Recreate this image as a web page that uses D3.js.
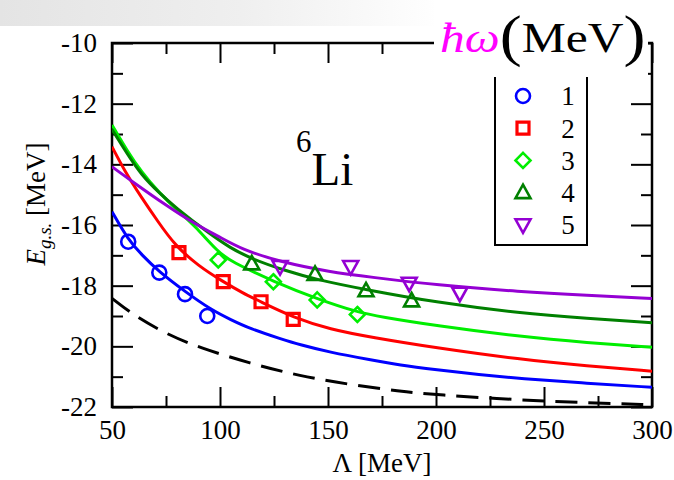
<!DOCTYPE html>
<html>
<head>
<meta charset="utf-8">
<script src="https://cdn.jsdelivr.net/npm/d3@7"></script>
<style>
  body { margin: 0; background: #fff; }
  svg { display: block; }
  svg text { font-family: "Liberation Serif", "Times New Roman", "DejaVu Serif", serif; }
</style>
</head>
<body>
<div id="chart"></div>
<script>
// series labels (hbar omega in MeV) and colours
const seriesNames = ["1", "2", "3", "4", "5"];
const seriesColors = ["#0000ff", "#ff0000", "#00ee00", "#008000", "#9400d3"];
const seriesSymbols = ["circle", "square", "diamond", "triangleUp", "triangleDown"];

// computed points, [Lambda, E]
const points1 = [[57.5, -16.55], [71.9, -17.57], [83.8, -18.28], [94.1, -19.0]];
const points2 = [[81, -16.91], [101.5, -17.87], [119, -18.53], [133.9, -19.11]];
const points3 = [[99.2, -17.15], [124.7, -17.87], [145, -18.47], [163.6, -18.95]];
const points4 = [[114.7, -17.28], [144, -17.63], [167.6, -18.17], [188.7, -18.5]];
const points5 = [[127.8, -17.37], [160.5, -17.37], [187.6, -17.92], [211, -18.25]];

// fitted curves
const fit1 = [[50, -15.56], [57.4, -16.48], [64, -17.0], [71.6, -17.53], [83.9, -18.2], [96, -18.8],
  [105, -19.12], [114, -19.42], [128, -19.75], [137, -19.95], [151, -20.2], [170, -20.45],
  [183, -20.62], [200, -20.77], [220, -20.93], [239, -21.06], [270, -21.22], [300, -21.35]];
const fit2 = [[50, -13.42], [56, -14.24], [63.6, -15.09], [71.3, -15.89], [79, -16.66], [90, -17.35],
  [101.5, -17.87], [110, -18.22], [118.5, -18.52], [134, -19.05], [151, -19.44], [170, -19.7],
  [200, -20.05], [239, -20.43], [270, -20.65], [300, -20.82]];
const fit3 = [[50, -12.7], [57, -13.55], [63.6, -14.25], [72, -14.95], [80, -15.5], [88, -16.0],
  [99.2, -16.9], [105, -17.2], [125, -17.87], [145.5, -18.45], [164, -18.88], [174, -19.02],
  [200, -19.32], [239, -19.68], [270, -19.88], [300, -20.03]];
const fit4 = [[50, -12.85], [57, -13.65], [63.6, -14.35], [72, -14.95], [79, -15.4], [94.4, -16.25],
  [104.6, -16.75], [114.7, -17.12], [130, -17.5], [144, -17.79], [168, -18.14], [200, -18.55],
  [239, -18.91], [270, -19.08], [300, -19.22]];
const fit5 = [[50, -14.08], [60, -14.6], [75, -15.35], [88, -15.95], [100, -16.4], [110, -16.8],
  [128, -17.22], [151, -17.55], [170, -17.72], [200, -17.98], [239, -18.2], [270, -18.32], [300, -18.42]];
const fitInf = [[50, -18.42], [59.9, -18.97], [75.3, -19.6], [90.7, -20.05], [113.9, -20.56],
  [137, -20.98], [160, -21.26], [183, -21.48], [200, -21.6], [239, -21.77], [270, -21.86], [300, -21.93]];

const allPoints = [points1, points2, points3, points4, points5];
const allFits = [fit1, fit2, fit3, fit4, fit5];

// axis ticks
const xMajor = [50, 100, 150, 200, 250, 300];
const xMinor = [75, 125, 175, 225, 275];
const yMajor = [-10, -12, -14, -16, -18, -20, -22];
const yMinor = [-11, -13, -15, -17, -19, -21];

const width = 674, height = 480;
const margin = { top: 43, right: 22, bottom: 73, left: 112 };
const plotW = width - margin.left - margin.right;
const plotH = height - margin.top - margin.bottom;

const svg = d3.select("#chart").append("svg")
    .attr("width", width)
    .attr("height", height);

// faint grey slide band at the top left
const defs = svg.append("defs");
const grad = defs.append("linearGradient")
    .attr("id", "band")
    .attr("x1", 0).attr("x2", 1).attr("y1", 0).attr("y2", 0);
grad.append("stop").attr("offset", "0%").attr("stop-color", "#e4e4e4");
grad.append("stop").attr("offset", "55%").attr("stop-color", "#efefef");
grad.append("stop").attr("offset", "100%").attr("stop-color", "#ffffff");
svg.append("rect")
    .attr("x", 0).attr("y", 0)
    .attr("width", 440).attr("height", 26)
    .attr("fill", "url(#band)");

const x = d3.scaleLinear().domain([50, 300]).range([0, plotW]);
const y = d3.scaleLinear().domain([-22, -10]).range([plotH, 0]);

const g = svg.append("g")
    .attr("transform", `translate(${margin.left},${margin.top})`);

defs.append("clipPath").attr("id", "plotClip")
    .append("rect").attr("width", plotW).attr("height", plotH);

/**
 * Axes: major ticks carry labels, minor ticks are shorter
 */
function styleAxis(sel) {
    sel.select(".domain").remove();
    sel.selectAll("line").attr("stroke", "#000").attr("stroke-width", 2);
    sel.selectAll("text").attr("fill", "#000").attr("font-size", 27);
}

g.append("g").attr("transform", `translate(0,${plotH})`)
    .call(d3.axisBottom(x).tickValues(xMajor).tickSize(-20).tickPadding(13).tickFormat(d => String(d)))
    .call(styleAxis);
g.append("g").attr("transform", `translate(0,${plotH})`)
    .call(d3.axisBottom(x).tickValues(xMinor).tickSize(-11).tickFormat(""))
    .call(styleAxis);
g.append("g")
    .call(d3.axisTop(x).tickValues(xMajor).tickSize(-20).tickFormat(""))
    .call(styleAxis);
g.append("g")
    .call(d3.axisTop(x).tickValues(xMinor).tickSize(-11).tickFormat(""))
    .call(styleAxis);

g.append("g")
    .call(d3.axisLeft(y).tickValues(yMajor).tickSize(-21).tickPadding(15).tickFormat(d => String(d)))
    .call(styleAxis);
g.append("g")
    .call(d3.axisLeft(y).tickValues(yMinor).tickSize(-11).tickFormat(""))
    .call(styleAxis);
g.append("g").attr("transform", `translate(${plotW},0)`)
    .call(d3.axisRight(y).tickValues(yMajor).tickSize(-21).tickFormat(""))
    .call(styleAxis);
g.append("g").attr("transform", `translate(${plotW},0)`)
    .call(d3.axisRight(y).tickValues(yMinor).tickSize(-11).tickFormat(""))
    .call(styleAxis);

// frame
g.append("rect")
    .attr("width", plotW).attr("height", plotH)
    .attr("fill", "none").attr("stroke", "#000").attr("stroke-width", 2.5);

// curves
const line = d3.line()
    .x(d => x(d[0]))
    .y(d => y(d[1]))
    .curve(d3.curveBasis);

const curves = g.append("g").attr("clip-path", "url(#plotClip)");
curves.append("path")
    .datum(fitInf)
    .attr("d", line)
    .attr("fill", "none")
    .attr("stroke", "#000")
    .attr("stroke-width", 3)
    .attr("stroke-dasharray", "22,11");
curves.selectAll(".fit")
    .data(allFits)
    .enter()
    .append("path")
    .attr("class", "fit")
    .attr("d", line)
    .attr("fill", "none")
    .attr("stroke", (_, i) => seriesColors[i])
    .attr("stroke-width", 3);

/**
 * Open markers
 */
function symbolPath(type) {
    if (type === "circle") return d3.arc()({ innerRadius: 0, outerRadius: 7, startAngle: 0, endAngle: 2 * Math.PI });
    if (type === "square") return "M-6,-6H6V6H-6Z";
    if (type === "diamond") return "M0,-7.5L7.5,0L0,7.5L-7.5,0Z";
    if (type === "triangleUp") return "M0,-8L7.5,5.5L-7.5,5.5Z";
    return "M0,8L7.5,-5.5L-7.5,-5.5Z";
}

allPoints.forEach((pts, i) => {
    g.append("g").selectAll("path")
        .data(pts)
        .enter()
        .append("path")
        .attr("transform", d => `translate(${x(d[0])},${y(d[1])})`)
        .attr("d", symbolPath(seriesSymbols[i]))
        .attr("fill", "none")
        .attr("stroke", seriesColors[i])
        .attr("stroke-width", i === 1 ? 3.2 : 2.6);
});

// legend
const legendX = 495, legendY = 62, legendW = 92, legendH = 183;
svg.append("rect")
    .attr("x", legendX).attr("y", legendY)
    .attr("width", legendW).attr("height", legendH)
    .attr("fill", "#fff").attr("stroke", "#000").attr("stroke-width", 2);
const legendRows = svg.append("g").selectAll("g")
    .data(seriesNames)
    .enter()
    .append("g")
    .attr("transform", (_, i) => `translate(${legendX + 28},${96 + i * 32.2})`);
legendRows.append("path")
    .attr("d", (_, i) => symbolPath(seriesSymbols[i]))
    .attr("fill", "none")
    .attr("stroke", (_, i) => seriesColors[i])
    .attr("stroke-width", (_, i) => i === 1 ? 3.2 : 2.6);
legendRows.append("text")
    .attr("x", 45)
    .attr("dy", "0.35em")
    .attr("text-anchor", "middle")
    .attr("font-size", 27)
    .text(d => d);

// title hides the top frame and the head of the legend box
svg.append("rect")
    .attr("x", 434).attr("y", 0)
    .attr("width", 214).attr("height", 77)
    .attr("fill", "#fff");
const title = svg.append("text")
    .attr("transform", "translate(440,52) scale(1.18,1)")
    .attr("font-size", 42);
title.append("tspan")
    .attr("font-style", "italic")
    .attr("fill", "#ff00ff")
    .text("ħω");
title.append("tspan")
    .attr("font-size", 56)
    .attr("dy", 3)
    .text("(");
title.append("tspan")
    .attr("dy", -3)
    .text("MeV");
title.append("tspan")
    .attr("font-size", 56)
    .attr("dy", 3)
    .text(")");

// nucleus label
const nucleus = svg.append("text")
    .attr("x", 296).attr("y", 185)
    .attr("font-size", 47);
nucleus.append("tspan")
    .attr("font-size", 31)
    .attr("dy", -33)
    .text("6");
nucleus.append("tspan")
    .attr("dy", 33)
    .text("Li");

// axis titles
const xTitle = svg.append("text")
    .attr("x", margin.left + plotW / 2)
    .attr("y", 472)
    .attr("text-anchor", "middle")
    .attr("font-size", 27);
xTitle.append("tspan").text("Λ ");
xTitle.append("tspan").text("[MeV]");

const yTitle = svg.append("text")
    .attr("transform", "translate(45,204) rotate(-90)")
    .attr("text-anchor", "middle")
    .attr("font-size", 27);
yTitle.append("tspan").attr("font-style", "italic").text("E");
yTitle.append("tspan").attr("font-style", "italic").attr("font-size", 19).attr("dy", 6).text("g.s.");
yTitle.append("tspan").attr("dy", -6).text(" [MeV]");
</script>
</body>
</html>
